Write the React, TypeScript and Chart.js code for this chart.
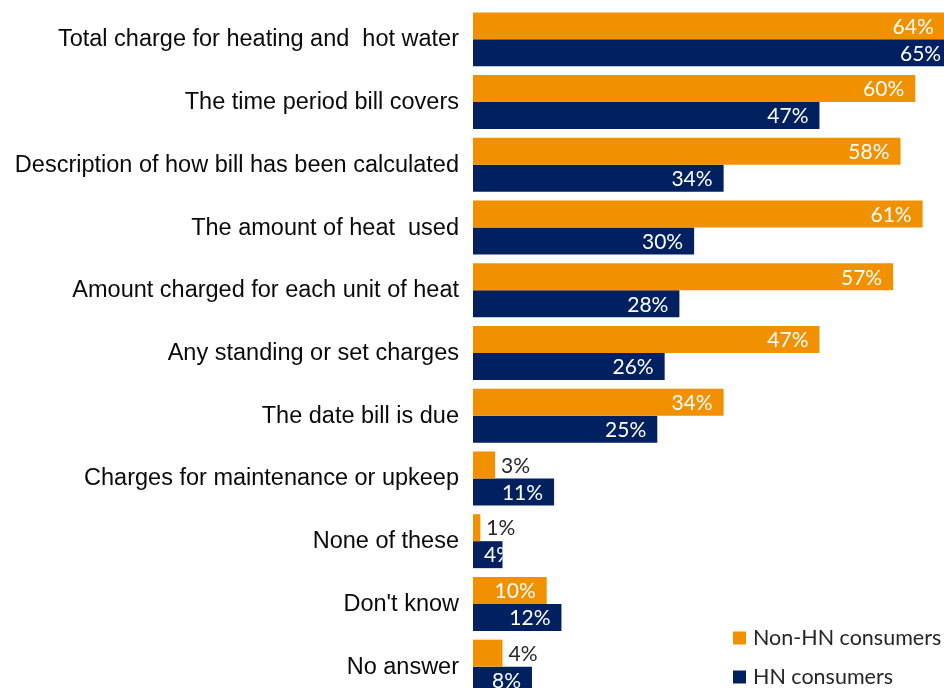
import React, { useEffect, useRef } from "react";
import { Chart, registerables } from "chart.js";

Chart.register(...registerables);

const categories = [
  "Total charge for heating and  hot water",
  "The time period bill covers",
  "Description of how bill has been calculated",
  "The amount of heat  used",
  "Amount charged for each unit of heat",
  "Any standing or set charges",
  "The date bill is due",
  "Charges for maintenance or upkeep",
  "None of these",
  "Don't know",
  "No answer",
];

const nonHN = [64, 60, 58, 61, 57, 47, 34, 3, 1, 10, 4];
const hn = [65, 47, 34, 30, 28, 26, 25, 11, 4, 12, 8];

const seriesNames = ["Non-HN consumers", "HN consumers"];
const seriesColors = ["#F29100", "#002060"];

const valueLabelPlugin = {
  id: "valueLabels",
  afterDatasetsDraw(chart: any) {
    const ctx = chart.ctx;
    ctx.save();
    ctx.font = "21px Lato";
    ctx.textBaseline = "middle";
    ctx.textAlign = "left";
    chart.data.datasets.forEach((ds: any, i: number) => {
      const meta = chart.getDatasetMeta(i);
      meta.data.forEach((bar: any, j: number) => {
        const p = bar.getProps(["x", "y", "base", "height"], true);
        const v = ds.data[j];
        const txt = v + "%";
        const w = ctx.measureText(txt).width;
        const outside = i === 0 && v < 5;
        if (outside) {
          ctx.fillStyle = "#262626";
          ctx.fillText(txt, p.x + 6, p.y + 1);
        } else {
          ctx.save();
          ctx.beginPath();
          ctx.rect(p.base, p.y - p.height / 2, p.x - p.base, p.height);
          ctx.clip();
          ctx.fillStyle = "#ffffff";
          const tx = Math.max(p.base + 11, p.x - 11 - w);
          ctx.fillText(txt, tx, p.y + 1);
          ctx.restore();
        }
      });
    });
    ctx.restore();
  },
};

const legendPlugin = {
  id: "cornerLegend",
  afterDraw(chart: any) {
    const ctx = chart.ctx;
    ctx.save();
    ctx.font = "21.5px Lato";
    ctx.textBaseline = "middle";
    ctx.textAlign = "left";
    const rows = [638, 677];
    chart.data.datasets.forEach((ds: any, i: number) => {
      const cy = rows[i];
      ctx.fillStyle = ds.backgroundColor;
      ctx.fillRect(733, cy - 6.5, 13, 13);
      ctx.fillStyle = "#262626";
      ctx.fillText(ds.label, 753, cy);
    });
    ctx.restore();
  },
};

export default function App() {
  const ref = useRef<HTMLCanvasElement | null>(null);
  useEffect(() => {
    if (!ref.current) return;
    const chart = new Chart(ref.current, {
      type: "bar",
      data: {
        labels: categories,
        datasets: [
          { label: seriesNames[0], data: nonHN, backgroundColor: seriesColors[0] },
          { label: seriesNames[1], data: hn, backgroundColor: seriesColors[1] },
        ],
      },
      options: {
        indexAxis: "y",
        responsive: false,
        animation: false,
        devicePixelRatio: 1,
        layout: { padding: { top: 8, left: 0, right: 0, bottom: 0 } },
        datasets: {
          bar: { categoryPercentage: 0.86, barPercentage: 1.0 },
        },
        plugins: {
          legend: { display: false },
          tooltip: { enabled: false },
        },
        scales: {
          x: {
            display: false,
            min: 0,
            max: 70,
          },
          y: {
            grid: { display: false, drawTicks: false },
            border: { display: false },
            afterFit: (scale: any) => {
              scale.width = 473;
              scale.paddingTop = 0;
              scale.paddingBottom = 0;
            },
            ticks: {
              autoSkip: false,
              padding: 14,
              labelOffset: 0.5,
              color: "#0a0a0a",
              font: { family: "'Liberation Sans', Arial, sans-serif", size: 23.5 },
            },
          },
        },
      },
      plugins: [valueLabelPlugin, legendPlugin],
    } as any);
    return () => chart.destroy();
  }, []);
  return (
    <div
      style={{
        position: "fixed",
        left: 0,
        top: 0,
        width: 944,
        height: 688,
        overflow: "hidden",
        background: "#ffffff",
      }}
    >
      <canvas ref={ref} width={989} height={698} style={{ display: "block" }} />
    </div>
  );
}
